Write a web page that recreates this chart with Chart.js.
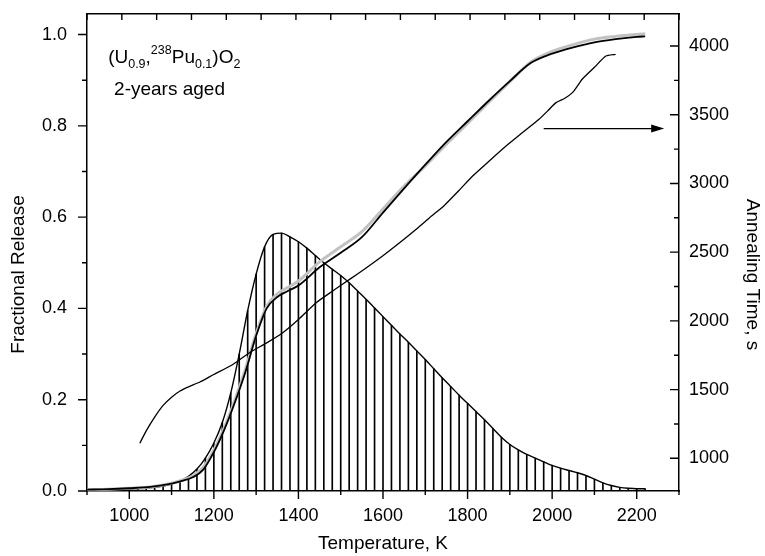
<!DOCTYPE html>
<html>
<head>
<meta charset="utf-8">
<script src="https://cdn.jsdelivr.net/npm/chart.js@4/dist/chart.umd.min.js"></script>
<style>
  html, body { margin: 0; padding: 0; background: #fff; }
  #wrap { width: 765px; height: 556px; position: relative; }
</style>
</head>
<body>
<div id="wrap"><canvas id="c"></canvas></div>
<script>
// peak (release rate) curve, also drawn as the hatching
const peakTemps = [900, 920, 940, 960, 980, 1000, 1020, 1040, 1060, 1080, 1100, 1120, 1140, 1160, 1180,
  1200, 1220, 1240, 1260, 1280, 1300, 1320, 1340, 1360, 1380, 1400, 1420, 1440, 1460, 1480,
  1500, 1520, 1540, 1560, 1580, 1600, 1620, 1640, 1660, 1680, 1700, 1720, 1740, 1760, 1780,
  1800, 1820, 1840, 1860, 1880, 1900, 1920, 1940, 1960, 1980, 2000, 2020, 2040, 2060, 2080,
  2100, 2120, 2140, 2160, 2180, 2200, 2220]
const peakValues = [0.002, 0.002, 0.003, 0.003, 0.004, 0.004, 0.005, 0.006, 0.008, 0.011, 0.015, 0.022, 0.032, 0.048, 0.072,
  0.105, 0.150, 0.215, 0.300, 0.395, 0.475, 0.535, 0.562, 0.565, 0.557, 0.546, 0.532, 0.516, 0.500, 0.486,
  0.472, 0.456, 0.438, 0.420, 0.401, 0.382, 0.363, 0.344, 0.326, 0.307, 0.288, 0.268, 0.248, 0.229, 0.210,
  0.192, 0.174, 0.156, 0.137, 0.118, 0.102, 0.090, 0.080, 0.072, 0.064, 0.056, 0.050, 0.045, 0.040, 0.034,
  0.026, 0.018, 0.012, 0.008, 0.006, 0.005, 0.005]

// fractional release, fitted (black) and measured (grey)
const relTemps = [900, 950, 1000, 1050, 1100, 1125, 1150, 1175, 1200, 1225, 1250, 1275, 1300, 1325, 1350, 1375,
  1400, 1450, 1500, 1550, 1600, 1650, 1700, 1750, 1800, 1850, 1900, 1950, 2000, 2050, 2100, 2150, 2200, 2220]
const relFit = [0.003, 0.004, 0.006, 0.009, 0.016, 0.022, 0.030, 0.047, 0.085, 0.135, 0.195, 0.262, 0.340, 0.400, 0.425, 0.438,
  0.450, 0.490, 0.522, 0.556, 0.610, 0.663, 0.715, 0.765, 0.810, 0.855, 0.898, 0.938, 0.958, 0.972, 0.983, 0.990, 0.995, 0.996]
const relMeasured = [0.003, 0.004, 0.006, 0.009, 0.017, 0.024, 0.033, 0.052, 0.090, 0.140, 0.200, 0.268, 0.345, 0.405, 0.432, 0.446,
  0.460, 0.502, 0.535, 0.568, 0.618, 0.668, 0.712, 0.760, 0.805, 0.852, 0.897, 0.940, 0.963, 0.978, 0.990, 0.996, 1.000, 1.002]

// annealing time (right axis)
const timeTemps = [1025, 1040, 1060, 1080, 1100, 1120, 1140, 1167, 1200, 1245, 1285, 1325, 1363, 1400, 1442, 1480,
  1521, 1560, 1599, 1640, 1680, 1710, 1745, 1780, 1812, 1850, 1891, 1930, 1969, 1990, 2009, 2030, 2048, 2060,
  2071, 2100, 2127, 2150]
const timeValues = [1110, 1200, 1300, 1385, 1445, 1490, 1520, 1555, 1610, 1683, 1770, 1840, 1914, 2010, 2132, 2215,
  2302, 2385, 2472, 2570, 2670, 2750, 2840, 2950, 3054, 3160, 3272, 3370, 3467, 3530, 3588, 3620, 3661, 3710,
  3758, 3845, 3927, 3940]

// axis ticks
const tempTicks = [900, 1000, 1100, 1200, 1300, 1400, 1500, 1600, 1700, 1800, 1900, 2000, 2100, 2200, 2300]
const relTicks = [0, 0.1, 0.2, 0.3, 0.4, 0.5, 0.6, 0.7, 0.8, 0.9, 1.0]
const timeTicks = [1000, 1250, 1500, 1750, 2000, 2250, 2500, 2750, 3000, 3250, 3500, 3750, 4000]
const topTicks = [0, 1, 2, 3, 4, 5, 6, 7, 8, 9, 10, 11, 12, 13, 14, 15, 16, 17]

const pts = (xs, ys) => xs.map((x, i) => ({ x: x, y: ys[i] }))

const FONT = 'Liberation Sans, Arial, Helvetica, sans-serif'
Chart.defaults.font.family = FONT
Chart.defaults.color = '#000'

// tick marks: left & bottom outward, right & top inward
const tickMarks = {
  id: 'tickMarks',
  afterDraw(chart) {
    const { x, y, y2, x2 } = chart.scales
    const ctx = chart.ctx
    ctx.save()
    ctx.strokeStyle = '#000'
    ctx.lineWidth = 1.4
    ctx.beginPath()
    x.ticks.forEach(t => {
      const px = x.getPixelForValue(t.value)
      const len = t.label !== '' ? 8 : 4
      ctx.moveTo(px, x.top); ctx.lineTo(px, x.top + len)
    })
    y.ticks.forEach(t => {
      const py = y.getPixelForValue(t.value)
      const len = t.label !== '' ? 9 : 5
      ctx.moveTo(y.right, py); ctx.lineTo(y.right - len, py)
    })
    y2.ticks.forEach(t => {
      const py = y2.getPixelForValue(t.value)
      const len = t.label !== '' ? 9 : 5
      ctx.moveTo(y2.left, py); ctx.lineTo(y2.left - len, py)
    })
    x2.ticks.forEach(t => {
      const px = x2.getPixelForValue(t.value)
      ctx.moveTo(px, x2.bottom); ctx.lineTo(px, x2.bottom + 6)
    })
    ctx.stroke()
    ctx.restore()
  }
}

// vertical axis titles (sit a little below the middle in the original)
const sideTitles = {
  id: 'sideTitles',
  afterDraw(chart) {
    const { y, y2 } = chart.scales
    const ctx = chart.ctx
    const cy = (chart.chartArea.top + chart.chartArea.bottom) / 2 + 22
    ctx.save()
    ctx.fillStyle = '#000'
    ctx.font = '19px ' + FONT
    ctx.textAlign = 'center'
    ctx.textBaseline = 'middle'
    ctx.translate(y.left + 19, cy)
    ctx.rotate(-Math.PI / 2)
    ctx.fillText('Fractional Release', 0, 0)
    ctx.restore()
    ctx.save()
    ctx.fillStyle = '#000'
    ctx.font = '19px ' + FONT
    ctx.textAlign = 'center'
    ctx.textBaseline = 'middle'
    ctx.translate(y2.right - 13, cy)
    ctx.rotate(Math.PI / 2)
    ctx.fillText('Annealing Time, s', 0, 0)
    ctx.restore()
  }
}

// composition label and arrow toward the time axis
const notes = {
  id: 'notes',
  afterDraw(chart) {
    const { x, y } = chart.scales
    const ctx = chart.ctx
    ctx.save()
    ctx.fillStyle = '#000'
    ctx.textBaseline = 'alphabetic'
    const parts = [['(', 0], ['U', 0], ['0.9', -1], [',', 0], ['238', 1], ['Pu', 0], ['0.1', -1], [')', 0], ['O', 0], ['2', -1]]
    let px = x.getPixelForValue(950)
    const py = y.getPixelForValue(0.937)
    parts.forEach(([t, s]) => {
      ctx.font = (s === 0 ? '19px ' : '12.5px ') + FONT
      const dy = s === -1 ? 5 : s === 1 ? -9 : 0
      ctx.fillText(t, px, py + dy)
      px += ctx.measureText(t).width
    })
    ctx.font = '19px ' + FONT
    ctx.fillText('2-years aged', x.getPixelForValue(964), y.getPixelForValue(0.867))

    const ax0 = x.getPixelForValue(1980)
    const ax1 = x.getPixelForValue(2265)
    const ay = y.getPixelForValue(0.794)
    ctx.strokeStyle = '#000'
    ctx.lineWidth = 1.3
    ctx.beginPath(); ctx.moveTo(ax0, ay); ctx.lineTo(ax1 - 10, ay); ctx.stroke()
    ctx.beginPath(); ctx.moveTo(ax1, ay); ctx.lineTo(ax1 - 13, ay - 4); ctx.lineTo(ax1 - 13, ay + 4); ctx.closePath(); ctx.fill()
    ctx.restore()
  }
}

const axisBorder = { color: '#000', width: 1.5 }
const tickFont = { size: 18 }
const noPadY = s => { s.paddingTop = 0; s.paddingBottom = 0 }
const noPadX = s => { s.paddingLeft = 0; s.paddingRight = 0 }

new Chart(document.getElementById('c'), {
  type: 'line',
  data: {
    datasets: [
      {
        label: 'time',
        data: pts(timeTemps, timeValues),
        yAxisID: 'y2',
        borderColor: '#000',
        borderWidth: 1.3,
        pointRadius: 0,
        tension: 0.2,
        order: 0
      },
      {
        label: 'fit',
        data: pts(relTemps, relFit),
        yAxisID: 'y',
        borderColor: '#000',
        borderWidth: 1.8,
        pointRadius: 0,
        cubicInterpolationMode: 'monotone',
        order: 1
      },
      {
        label: 'measured',
        data: pts(relTemps, relMeasured),
        yAxisID: 'y',
        borderColor: '#c2c2c2',
        borderWidth: 3,
        pointRadius: 0,
        cubicInterpolationMode: 'monotone',
        order: 2
      },
      {
        label: 'rate',
        data: pts(peakTemps, peakValues),
        yAxisID: 'y',
        borderColor: '#000',
        borderWidth: 1.4,
        pointRadius: 0,
        cubicInterpolationMode: 'monotone',
        order: 3
      },
      {
        type: 'bar',
        label: 'hatch',
        data: pts(peakTemps, peakValues),
        yAxisID: 'y',
        backgroundColor: '#000',
        borderWidth: 0,
        barThickness: 1,
        grouped: false,
        order: 4
      }
    ]
  },
  options: {
    responsive: true,
    maintainAspectRatio: false,
    animation: false,
    layout: { padding: 0 },
    plugins: { legend: { display: false }, tooltip: { enabled: false } },
    scales: {
      x: {
        type: 'linear',
        position: 'bottom',
        min: 900,
        max: 2300,
        offset: false,
        afterBuildTicks: s => { s.ticks = tempTicks.map(v => ({ value: v })) },
        afterFit: s => { s.height = 65; noPadX(s) },
        ticks: {
          autoSkip: false, maxRotation: 0, padding: 14, font: tickFont,
          callback: v => (v % 200 === 0 ? String(v) : '')
        },
        grid: { display: false, drawTicks: false },
        border: axisBorder,
        title: { display: true, text: 'Temperature, K', font: { size: 19 }, padding: { top: 0, bottom: 1 } }
      },
      x2: {
        type: 'linear',
        position: 'top',
        min: 0,
        max: 17,
        afterBuildTicks: s => { s.ticks = topTicks.map(v => ({ value: v })) },
        afterFit: s => { s.height = 14; noPadX(s) },
        ticks: { display: false },
        grid: { display: false, drawTicks: false },
        border: axisBorder
      },
      y: {
        type: 'linear',
        position: 'left',
        min: 0,
        max: 1.045,
        afterBuildTicks: s => { s.ticks = relTicks.map(v => ({ value: v })) },
        afterFit: s => { s.width = 87; noPadY(s) },
        ticks: {
          autoSkip: false, padding: 20, font: tickFont,
          callback: v => (Math.round(v * 10) % 2 === 0 ? v.toFixed(1) : '')
        },
        grid: { display: false, drawTicks: false },
        border: axisBorder
      },
      y2: {
        type: 'linear',
        position: 'right',
        min: 762,
        max: 4233,
        afterBuildTicks: s => { s.ticks = timeTicks.map(v => ({ value: v })) },
        afterFit: s => { s.width = 86; noPadY(s) },
        ticks: {
          autoSkip: false, padding: 10, font: tickFont,
          callback: v => (v % 500 === 0 ? String(v) : '')
        },
        grid: { display: false, drawTicks: false },
        border: axisBorder
      }
    }
  },
  plugins: [tickMarks, sideTitles, notes]
})
</script>
</body>
</html>
